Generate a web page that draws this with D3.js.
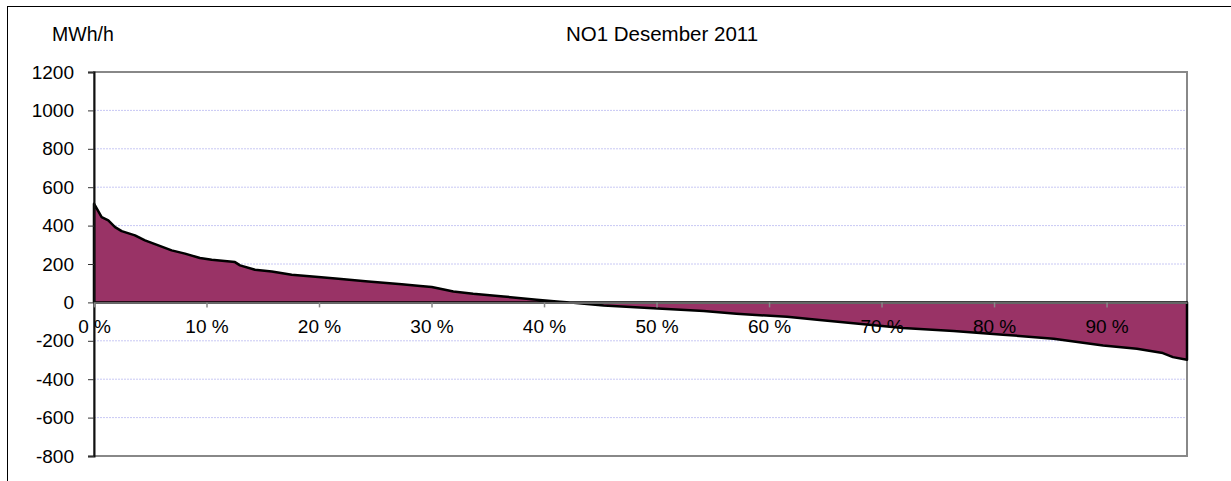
<!DOCTYPE html>
<html>
<head>
<meta charset="utf-8">
<script src="https://cdn.jsdelivr.net/npm/d3@7"></script>
<style>
  body { margin: 0; background: #fff; }
  svg { display: block; font-family: "Liberation Sans", Arial, sans-serif; }
</style>
</head>
<body>
<script>
// duration curve, share of hours (%) vs. MWh/h
const pct = [0, 0.68, 1.27, 1.87, 2.46, 3.64, 4.53, 5.72, 6.9, 8.09, 9.42, 10.46, 12.53, 12.98,
  14.31, 15.8, 17.57, 19.94, 21.72, 24.38, 27.35, 29.0, 30.02, 31.2, 31.94, 33.7, 36.4, 39.35,
  41.4, 42.6, 45.3, 49.7, 54.2, 57.1, 61.6, 64.5, 67.5, 71.9, 76.4, 80.8, 85.3, 89.7, 92.7,
  95.0, 95.9, 97.15];
const values = [514, 444, 427, 392, 371, 349, 323, 297, 271, 254, 231, 222, 210, 193,
  170, 161, 144, 132, 123, 109, 94, 85, 80, 66, 57, 45, 31, 14,
  4, -2, -16, -31, -45, -59, -75, -92, -108, -133, -149, -168, -189, -224, -241,
  -264, -285, -299];
const yTicks = [-800, -600, -400, -200, 0, 200, 400, 600, 800, 1000, 1200];
const xTicks = [0, 10, 20, 30, 40, 50, 60, 70, 80, 90];

const width = 1231, height = 481;
const plotLeft = 94, plotRight = 1187, plotTop = 72, plotBottom = 456;

const svg = d3.select('body').append('svg')
  .attr('width', width)
  .attr('height', height);

// chart frame
svg.append('rect')
  .attr('x', 7.5).attr('y', 6.5)
  .attr('width', 1240).attr('height', 490)
  .attr('fill', 'none').attr('stroke', '#000').attr('stroke-width', 1);

const x = d3.scaleLinear().domain([0, d3.max(pct)]).range([plotLeft, plotRight]);
const y = d3.scaleLinear().domain([-800, 1200]).range([plotBottom, plotTop]);

// gridlines
svg.append('g')
  .selectAll('line')
  .data(yTicks.filter(d => d !== 0 && d !== -800 && d !== 1200))
  .enter()
    .append('line')
    .attr('x1', plotLeft).attr('x2', plotRight)
    .attr('y1', d => y(d)).attr('y2', d => y(d))
    .attr('stroke', '#c8c8f4')
    .attr('stroke-width', 1)
    .attr('stroke-dasharray', '2,1');

// plot border
svg.append('rect')
  .attr('x', plotLeft).attr('y', plotTop)
  .attr('width', plotRight - plotLeft).attr('height', plotBottom - plotTop)
  .attr('fill', 'none').attr('stroke', '#888').attr('stroke-width', 2);

const data = pct.map((p, i) => ({ p: p, v: values[i] }));

const area = d3.area()
  .x(d => x(d.p))
  .y0(y(0))
  .y1(d => y(d.v));

svg.append('path')
  .datum(data)
  .attr('d', area)
  .attr('fill', '#993366')
  .attr('stroke', '#000')
  .attr('stroke-width', 2.5)
  .attr('stroke-linejoin', 'round');

// y axis
const yAxis = d3.axisLeft(y)
  .tickValues(yTicks)
  .tickSize(6)
  .tickPadding(14)
  .tickFormat(d => d);

const gy = svg.append('g')
  .attr('transform', `translate(${plotLeft},0)`)
  .call(yAxis);
gy.select('.domain').attr('stroke', '#111').attr('stroke-width', 2);
gy.selectAll('.tick line').attr('stroke', '#333');
gy.selectAll('text').attr('font-size', 19).attr('fill', '#000')
  .attr('font-family', '"Liberation Sans", Arial, sans-serif');

// x axis at zero
const xAxis = d3.axisBottom(x)
  .tickValues(xTicks)
  .tickSize(5)
  .tickSizeOuter(0)
  .tickFormat(d => d + ' %');

const gx = svg.append('g')
  .attr('transform', `translate(0,${y(0)})`)
  .call(xAxis);
gx.select('.domain').attr('stroke', '#666').attr('stroke-width', 2);
gx.selectAll('.tick line').attr('stroke', '#888').attr('stroke-width', 1.5);
gx.selectAll('text').attr('font-size', 19).attr('fill', '#000').attr('y', 17)
  .attr('font-family', '"Liberation Sans", Arial, sans-serif');

// titles
svg.append('text')
  .attr('x', 52).attr('y', 41)
  .attr('font-size', 19.5)
  .text('MWh/h');

svg.append('text')
  .attr('x', 662).attr('y', 41)
  .attr('text-anchor', 'middle')
  .attr('font-size', 20.5)
  .text('NO1 Desember 2011');
</script>
</body>
</html>
